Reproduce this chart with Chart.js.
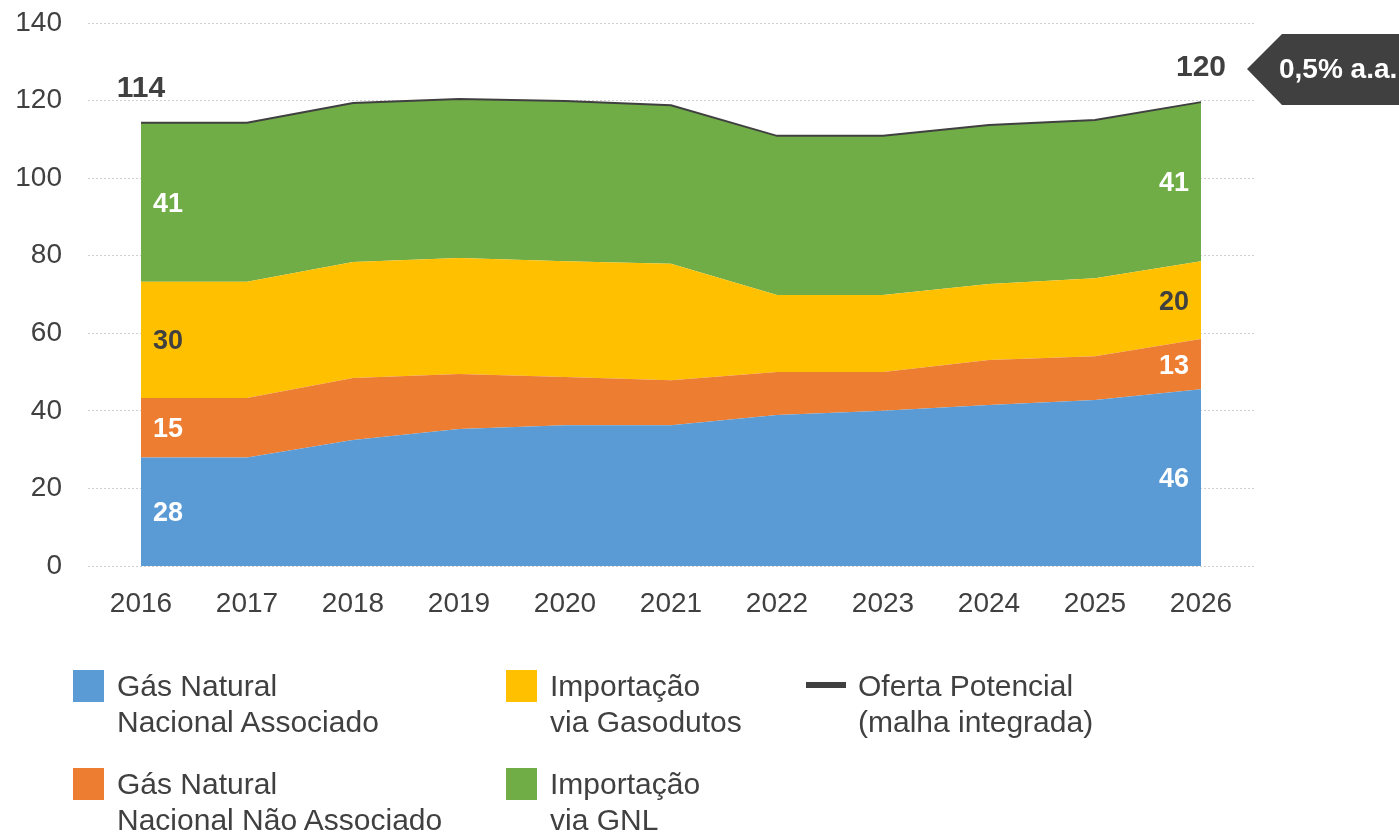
<!DOCTYPE html>
<html>
<head>
<meta charset="utf-8">
<script src="https://cdn.jsdelivr.net/npm/chart.js@4/dist/chart.umd.min.js"></script>
<style>
    body { margin: 0; background: #fff; }
    #wrap { position: relative; width: 1399px; height: 834px; }
    #chart { position: absolute; left: 0; top: 0; }
    .item { position: absolute; font-family: "Liberation Sans", Arial, sans-serif; font-size: 30px; line-height: 36px; color: #404040; }
    .box { position: absolute; width: 31px; height: 32px; }
    .dash { position: absolute; width: 40px; height: 6px; background: #404040; }
</style>
</head>
<body>
<div id="wrap">
    <canvas id="chart" width="1399" height="834"></canvas>
    <div id="legend"></div>
</div>
<script>
const years = ['2016', '2017', '2018', '2019', '2020', '2021', '2022', '2023', '2024', '2025', '2026'];
const associado = [28, 28, 32.5, 35.3, 36.3, 36.3, 38.9, 40, 41.5, 42.8, 45.6];
const naoAssociado = [15.3, 15.3, 16, 14.2, 12.4, 11.6, 11.1, 10, 11.6, 11.3, 12.9];
const gasodutos = [30, 30, 29.9, 29.9, 29.9, 30, 19.9, 19.9, 19.6, 20.1, 20.1];
const gnl = [41, 41, 41, 41, 41.3, 40.9, 41, 41, 41, 40.8, 41];
const oferta = [114.3, 114.3, 119.4, 120.4, 119.9, 118.8, 110.9, 110.9, 113.7, 115, 119.6];
const growthText = '0,5% a.a.';

const FONT = '"Liberation Sans", Arial, sans-serif';
const DARK = '#404040';

// labels on the first and last year + totals + growth callout
const labelPlugin = {
    id: 'labels',
    afterDatasetsDraw(chart) {
        const ctx = chart.ctx;
        const zero = chart.scales.y.getPixelForValue(0);
        ctx.save();
        ctx.textBaseline = 'middle';
        ctx.font = 'bold 27px ' + FONT;
        [0, years.length - 1].forEach(j => {
            let bottom = zero;
            for (let i = 0; i < 4; i++) {
                const ds = chart.data.datasets[i];
                const pt = chart.getDatasetMeta(i).data[j];
                const mid = (pt.y + bottom) / 2;
                bottom = pt.y;
                ctx.fillStyle = ds.labelColor;
                ctx.textAlign = j === 0 ? 'left' : 'right';
                ctx.fillText(Math.round(ds.data[j]), j === 0 ? pt.x + 12 : pt.x - 12, mid + 2);
            }
            const top = chart.getDatasetMeta(4).data[j];
            ctx.font = 'bold 30px ' + FONT;
            ctx.fillStyle = DARK;
            ctx.textAlign = 'center';
            ctx.fillText(Math.round(oferta[j]), top.x, top.y - 34);
            ctx.font = 'bold 27px ' + FONT;
        });

        // callout arrow
        const last = chart.getDatasetMeta(4).data[years.length - 1];
        const cy = last.y - 33;
        const tip = last.x + 46;
        ctx.fillStyle = DARK;
        ctx.beginPath();
        ctx.moveTo(tip, cy);
        ctx.lineTo(tip + 35, cy - 35);
        ctx.lineTo(chart.width, cy - 35);
        ctx.lineTo(chart.width, cy + 36);
        ctx.lineTo(tip + 35, cy + 36);
        ctx.closePath();
        ctx.fill();
        ctx.fillStyle = '#fff';
        ctx.font = 'bold 28px ' + FONT;
        ctx.textAlign = 'left';
        ctx.fillText(growthText, tip + 32, cy + 1);
        ctx.restore();
    }
};

const areaSet = (label, data, color, labelColor, fill) => ({
    label: label,
    data: data,
    backgroundColor: color,
    borderColor: color,
    borderWidth: 0,
    fill: fill,
    pointRadius: 0,
    tension: 0,
    order: 1,
    labelColor: labelColor
});

new Chart(document.getElementById('chart'), {
    type: 'line',
    data: {
        labels: years,
        datasets: [
            areaSet('Gás Natural\nNacional Associado', associado, '#5B9BD5', '#fff', 'origin'),
            areaSet('Gás Natural\nNacional Não Associado', naoAssociado, '#ED7D31', '#fff', '-1'),
            areaSet('Importação\nvia Gasodutos', gasodutos, '#FFC000', DARK, '-1'),
            areaSet('Importação\nvia GNL', gnl, '#70AD47', '#fff', '-1'),
            {
                label: 'Oferta Potencial\n(malha integrada)',
                data: oferta,
                stack: 'oferta',
                borderColor: DARK,
                borderWidth: 2,
                fill: false,
                pointRadius: 0,
                tension: 0,
                order: 0
            }
        ]
    },
    options: {
        responsive: false,
        animation: false,
        layout: { padding: { top: 23, right: 145, left: 0, bottom: 0 } },
        plugins: {
            legend: { display: false },
            tooltip: { enabled: false }
        },
        scales: {
            x: {
                offset: true,
                grid: { display: false },
                border: { display: false },
                ticks: { color: DARK, font: { family: FONT, size: 28 }, padding: 13, maxRotation: 0 },
                afterFit(scale) { scale.height = 834 - 566; }
            },
            y: {
                stacked: true,
                min: 0,
                max: 140,
                grid: { color: '#cfcfcf', drawTicks: false, lineWidth: 1 },
                border: { display: false, dash: [2, 2] },
                ticks: { stepSize: 20, color: DARK, font: { family: FONT, size: 28 }, padding: 26 },
                afterFit(scale) {
                    scale.width = 88;
                    scale.paddingTop = 0;
                    scale.paddingBottom = 0;
                }
            }
        }
    },
    plugins: [labelPlugin]
});

// legend
const legendItems = [
    { text: 'Gás Natural<br>Nacional Associado', color: '#5B9BD5', x: 73, y: 670 },
    { text: 'Importação<br>via Gasodutos', color: '#FFC000', x: 506, y: 670 },
    { text: 'Oferta Potencial<br>(malha integrada)', line: true, x: 806, y: 670 },
    { text: 'Gás Natural<br>Nacional Não Associado', color: '#ED7D31', x: 73, y: 768 },
    { text: 'Importação<br>via GNL', color: '#70AD47', x: 506, y: 768 }
];
const legend = document.getElementById('legend');
legendItems.forEach(item => {
    const mark = document.createElement('div');
    if (item.line) {
        mark.className = 'dash';
        mark.style.left = item.x + 'px';
        mark.style.top = (item.y + 12) + 'px';
    } else {
        mark.className = 'box';
        mark.style.left = item.x + 'px';
        mark.style.top = item.y + 'px';
        mark.style.background = item.color;
    }
    legend.appendChild(mark);
    const label = document.createElement('div');
    label.className = 'item';
    label.innerHTML = item.text;
    label.style.left = (item.x + (item.line ? 52 : 44)) + 'px';
    label.style.top = (item.y - 2) + 'px';
    legend.appendChild(label);
});
</script>
</body>
</html>
